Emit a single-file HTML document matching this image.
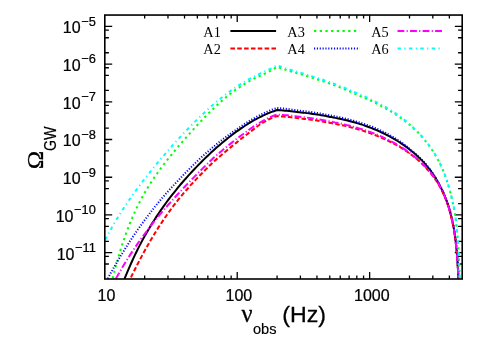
<!DOCTYPE html>
<html><head><meta charset="utf-8"><title>plot</title>
<style>
html,body{margin:0;padding:0;background:#fff;}
body{width:491px;height:343px;overflow:hidden;}
svg{display:block;will-change:transform;}
text{font-family:"Liberation Sans",sans-serif;fill:#000;stroke:#000;stroke-width:0.24px;}
.s{font-family:"Liberation Serif",serif;}
.lg{stroke:none;}
</style></head><body>
<svg width="491" height="343" viewBox="0 0 491 343">
<rect x="0" y="0" width="491" height="343" fill="#ffffff"/>
<defs><clipPath id="c"><rect x="104.80" y="15.05" width="357.40" height="263.95"/></clipPath></defs>
<path d="M144.66,279.00 v-3.40 M144.66,15.05 v3.40 M167.98,279.00 v-3.40 M167.98,15.05 v3.40 M184.53,279.00 v-3.40 M184.53,15.05 v3.40 M197.36,279.00 v-3.40 M197.36,15.05 v3.40 M207.84,279.00 v-3.40 M207.84,15.05 v3.40 M216.71,279.00 v-3.40 M216.71,15.05 v3.40 M224.39,279.00 v-3.40 M224.39,15.05 v3.40 M231.16,279.00 v-3.40 M231.16,15.05 v3.40 M237.22,279.00 v-7.00 M237.22,15.05 v7.00 M277.08,279.00 v-3.40 M277.08,15.05 v3.40 M300.40,279.00 v-3.40 M300.40,15.05 v3.40 M316.95,279.00 v-3.40 M316.95,15.05 v3.40 M329.78,279.00 v-3.40 M329.78,15.05 v3.40 M340.26,279.00 v-3.40 M340.26,15.05 v3.40 M349.13,279.00 v-3.40 M349.13,15.05 v3.40 M356.81,279.00 v-3.40 M356.81,15.05 v3.40 M363.58,279.00 v-3.40 M363.58,15.05 v3.40 M369.64,279.00 v-7.00 M369.64,15.05 v7.00 M409.50,279.00 v-3.40 M409.50,15.05 v3.40 M432.82,279.00 v-3.40 M432.82,15.05 v3.40 M449.37,279.00 v-3.40 M449.37,15.05 v3.40 M104.80,263.99 h4.10 M462.20,263.99 h-4.10 M104.80,256.30 h4.10 M462.20,256.30 h-4.10 M104.80,252.64 h7.40 M462.20,252.64 h-7.40 M104.80,241.29 h4.10 M462.20,241.29 h-4.10 M104.80,226.29 h4.10 M462.20,226.29 h-4.10 M104.80,218.59 h4.10 M462.20,218.59 h-4.10 M104.80,214.94 h7.40 M462.20,214.94 h-7.40 M104.80,203.59 h4.10 M462.20,203.59 h-4.10 M104.80,188.58 h4.10 M462.20,188.58 h-4.10 M104.80,180.88 h4.10 M462.20,180.88 h-4.10 M104.80,177.23 h7.40 M462.20,177.23 h-7.40 M104.80,165.88 h4.10 M462.20,165.88 h-4.10 M104.80,150.87 h4.10 M462.20,150.87 h-4.10 M104.80,143.18 h4.10 M462.20,143.18 h-4.10 M104.80,139.52 h7.40 M462.20,139.52 h-7.40 M104.80,128.17 h4.10 M462.20,128.17 h-4.10 M104.80,113.17 h4.10 M462.20,113.17 h-4.10 M104.80,105.47 h4.10 M462.20,105.47 h-4.10 M104.80,101.82 h7.40 M462.20,101.82 h-7.40 M104.80,90.46 h4.10 M462.20,90.46 h-4.10 M104.80,75.46 h4.10 M462.20,75.46 h-4.10 M104.80,67.76 h4.10 M462.20,67.76 h-4.10 M104.80,64.11 h7.40 M462.20,64.11 h-7.40 M104.80,52.76 h4.10 M462.20,52.76 h-4.10 M104.80,37.75 h4.10 M462.20,37.75 h-4.10 M104.80,30.06 h4.10 M462.20,30.06 h-4.10 M104.80,26.40 h7.40 M462.20,26.40 h-7.40" stroke="#000" stroke-width="1.3" fill="none"/>
<g clip-path="url(#c)" fill="none" stroke-linecap="butt" stroke-linejoin="miter">
<path d="M120.00,290.64 C120.42,289.53 121.67,286.16 122.50,284.00 C123.33,281.84 124.17,279.72 125.00,277.65 C125.83,275.59 126.67,273.57 127.50,271.59 C128.33,269.61 129.17,267.68 130.00,265.78 C130.83,263.89 131.67,262.03 132.50,260.22 C133.33,258.40 134.17,256.63 135.00,254.89 C135.83,253.15 136.67,251.44 137.50,249.77 C138.33,248.10 139.17,246.46 140.00,244.86 C140.83,243.25 141.67,241.68 142.50,240.13 C143.33,238.58 144.17,237.07 145.00,235.58 C145.83,234.09 146.67,232.63 147.50,231.20 C148.33,229.76 149.17,228.36 150.00,226.97 C150.83,225.59 151.67,224.23 152.50,222.89 C153.33,221.55 154.17,220.23 155.00,218.94 C155.83,217.64 156.67,216.37 157.50,215.12 C158.33,213.86 159.17,212.63 160.00,211.41 C160.83,210.20 161.67,209.00 162.50,207.82 C163.33,206.64 164.17,205.47 165.00,204.33 C165.83,203.18 166.67,202.05 167.50,200.93 C168.33,199.81 169.17,198.71 170.00,197.62 C170.83,196.54 171.67,195.46 172.50,194.40 C173.33,193.34 174.17,192.29 175.00,191.26 C175.83,190.22 176.67,189.20 177.50,188.19 C178.33,187.18 179.17,186.18 180.00,185.19 C180.83,184.20 181.67,183.22 182.50,182.26 C183.33,181.29 184.17,180.33 185.00,179.38 C185.83,178.44 186.67,177.50 187.50,176.57 C188.33,175.65 189.17,174.73 190.00,173.82 C190.83,172.91 191.67,172.01 192.50,171.12 C193.33,170.23 194.17,169.34 195.00,168.47 C195.83,167.60 196.67,166.73 197.50,165.87 C198.33,165.02 199.17,164.17 200.00,163.33 C200.83,162.49 201.67,161.65 202.50,160.83 C203.33,160.00 204.17,159.18 205.00,158.38 C205.83,157.57 206.67,156.76 207.50,155.97 C208.33,155.18 209.17,154.39 210.00,153.61 C210.83,152.83 211.67,152.06 212.50,151.30 C213.33,150.54 214.17,149.78 215.00,149.04 C215.83,148.29 216.67,147.55 217.50,146.82 C218.33,146.09 219.17,145.36 220.00,144.65 C220.83,143.93 221.67,143.23 222.50,142.53 C223.33,141.83 224.17,141.14 225.00,140.45 C225.83,139.77 226.67,139.09 227.50,138.43 C228.33,137.76 229.17,137.10 230.00,136.45 C230.83,135.81 231.67,135.16 232.50,134.53 C233.33,133.90 234.17,133.28 235.00,132.66 C235.83,132.05 236.67,131.44 237.50,130.85 C238.33,130.25 239.17,129.66 240.00,129.09 C240.83,128.51 241.67,127.94 242.50,127.38 C243.33,126.82 244.17,126.27 245.00,125.73 C245.83,125.19 246.67,124.66 247.50,124.14 C248.33,123.62 249.17,123.11 250.00,122.61 C250.83,122.11 251.67,121.62 252.50,121.14 C253.33,120.66 254.17,120.19 255.00,119.73 C255.83,119.27 256.67,118.82 257.50,118.38 C258.33,117.94 259.17,117.51 260.00,117.10 C260.83,116.68 261.67,116.27 262.50,115.87 C263.33,115.48 264.17,115.09 265.00,114.71 C265.83,114.34 266.67,113.97 267.50,113.62 C268.33,113.26 269.17,112.92 270.00,112.59 C270.83,112.25 271.67,111.93 272.50,111.62 C273.33,111.31 274.23,110.98 275.00,110.71 C275.77,110.44 276.75,110.12 277.10,110.00 L281.10,110.29 C281.77,110.34 283.77,110.50 285.10,110.63 C286.43,110.75 287.77,110.88 289.10,111.01 C290.43,111.15 291.77,111.30 293.10,111.45 C294.43,111.61 295.77,111.78 297.10,111.95 C298.43,112.11 299.77,112.29 301.10,112.45 C302.43,112.60 303.77,112.72 305.10,112.87 C306.43,113.02 307.77,113.19 309.10,113.36 C310.43,113.53 311.77,113.71 313.10,113.90 C314.43,114.09 315.77,114.29 317.10,114.50 C318.43,114.71 319.77,114.93 321.10,115.16 C322.43,115.39 323.77,115.63 325.10,115.88 C326.43,116.13 327.77,116.41 329.10,116.66 C330.43,116.92 331.77,117.15 333.10,117.40 C334.43,117.65 335.77,117.91 337.10,118.18 C338.43,118.45 339.77,118.73 341.10,119.02 C342.43,119.31 343.77,119.62 345.10,119.94 C346.43,120.26 347.77,120.59 349.10,120.93 C350.43,121.27 351.77,121.63 353.10,122.00 C354.43,122.37 355.77,122.76 357.10,123.16 C358.43,123.56 359.77,123.97 361.10,124.41 C362.43,124.84 363.77,125.30 365.10,125.77 C366.43,126.24 367.77,126.72 369.10,127.22 C370.43,127.73 371.77,128.24 373.10,128.78 C374.43,129.32 375.77,129.88 377.10,130.45 C378.43,131.03 379.77,131.62 381.10,132.24 C382.43,132.86 383.77,133.49 385.10,134.15 C386.43,134.81 387.77,135.50 389.10,136.20 C390.43,136.91 391.77,137.64 393.10,138.41 C394.43,139.17 395.77,139.95 397.10,140.77 C398.43,141.59 399.76,142.44 401.10,143.34 C402.44,144.24 403.78,145.18 405.14,146.16 C406.50,147.14 407.87,148.15 409.24,149.21 C410.61,150.27 411.98,151.37 413.35,152.53 C414.72,153.68 416.10,154.88 417.47,156.15 C418.85,157.42 420.23,158.73 421.60,160.13 C422.97,161.53 424.35,162.98 425.69,164.54 C427.04,166.10 428.86,168.46 429.67,169.48 C430.48,170.51 430.17,170.14 430.57,170.68 C430.96,171.23 431.56,172.05 432.06,172.76 C432.55,173.47 433.05,174.20 433.55,174.95 C434.04,175.70 434.54,176.47 435.04,177.26 C435.53,178.06 436.03,178.87 436.52,179.71 C437.02,180.55 437.52,181.42 438.01,182.31 C438.51,183.21 438.99,184.13 439.50,185.09 C440.01,186.05 440.54,187.04 441.06,188.08 C441.58,189.11 442.10,190.17 442.63,191.29 C443.15,192.41 443.67,193.57 444.20,194.79 C444.72,196.01 445.25,197.27 445.77,198.61 C446.29,199.95 446.81,201.35 447.32,202.84 C447.84,204.33 448.35,205.88 448.86,207.57 C449.37,209.25 449.89,211.01 450.40,212.94 C450.92,214.87 451.52,217.33 451.95,219.16 C452.38,221.00 452.78,222.93 452.99,223.94 C453.21,224.96 453.17,224.80 453.25,225.24 C453.33,225.68 453.41,226.12 453.49,226.57 C453.57,227.03 453.66,227.49 453.74,227.96 C453.82,228.43 453.90,228.91 453.98,229.40 C454.06,229.89 454.14,230.38 454.22,230.89 C454.30,231.40 454.38,231.92 454.47,232.45 C454.55,232.98 454.63,233.51 454.71,234.07 C454.79,234.62 454.87,235.18 454.95,235.76 C455.03,236.34 455.11,236.92 455.19,237.53 C455.27,238.13 455.35,238.75 455.43,239.38 C455.51,240.02 455.59,240.67 455.67,241.34 C455.75,242.00 455.84,242.69 455.92,243.39 C456.00,244.10 456.08,244.82 456.16,245.57 C456.23,246.32 456.31,247.08 456.39,247.88 C456.47,248.67 456.55,249.49 456.63,250.34 C456.71,251.19 456.79,252.06 456.87,252.97 C456.95,253.88 457.03,254.82 457.11,255.80 C457.19,256.78 457.27,257.79 457.34,258.86 C457.42,259.92 457.50,261.02 457.58,262.19 C457.66,263.36 457.73,264.56 457.81,265.85 C457.89,267.14 457.97,268.47 458.04,269.91 C458.12,271.34 458.20,272.84 458.27,274.46 C458.35,276.09 458.42,277.78 458.50,279.65 C458.57,281.53 458.68,284.69 458.72,285.69" stroke="#000000" stroke-width="2.00"/>
<path d="M125.00,289.78 C125.42,288.90 126.67,286.25 127.50,284.50 C128.33,282.76 129.17,281.02 130.00,279.30 C130.83,277.59 131.67,275.88 132.50,274.20 C133.33,272.51 134.17,270.84 135.00,269.19 C135.83,267.54 136.67,265.90 137.50,264.28 C138.33,262.66 139.17,261.06 140.00,259.48 C140.83,257.90 141.67,256.33 142.50,254.79 C143.33,253.24 144.17,251.71 145.00,250.20 C145.83,248.70 146.67,247.21 147.50,245.74 C148.33,244.27 149.17,242.82 150.00,241.38 C150.83,239.95 151.67,238.54 152.50,237.15 C153.33,235.75 154.17,234.38 155.00,233.02 C155.83,231.67 156.67,230.33 157.50,229.01 C158.33,227.69 159.17,226.39 160.00,225.11 C160.83,223.83 161.67,222.57 162.50,221.33 C163.33,220.08 164.17,218.86 165.00,217.65 C165.83,216.44 166.67,215.25 167.50,214.07 C168.33,212.90 169.17,211.74 170.00,210.60 C170.83,209.45 171.67,208.33 172.50,207.22 C173.33,206.11 174.17,205.02 175.00,203.94 C175.83,202.86 176.67,201.79 177.50,200.74 C178.33,199.69 179.17,198.66 180.00,197.64 C180.83,196.61 181.67,195.60 182.50,194.61 C183.33,193.61 184.17,192.63 185.00,191.66 C185.83,190.68 186.67,189.72 187.50,188.78 C188.33,187.83 189.17,186.89 190.00,185.96 C190.83,185.03 191.67,184.12 192.50,183.21 C193.33,182.30 194.17,181.40 195.00,180.51 C195.83,179.62 196.67,178.74 197.50,177.87 C198.33,176.99 199.17,176.13 200.00,175.27 C200.83,174.41 201.67,173.56 202.50,172.72 C203.33,171.87 204.17,171.03 205.00,170.20 C205.83,169.37 206.67,168.54 207.50,167.72 C208.33,166.90 209.17,166.09 210.00,165.28 C210.83,164.47 211.67,163.66 212.50,162.86 C213.33,162.06 214.17,161.23 215.00,160.47 C215.83,159.71 216.67,159.02 217.50,158.31 C218.33,157.59 219.17,156.88 220.00,156.17 C220.83,155.46 221.67,154.75 222.50,154.05 C223.33,153.35 224.17,152.65 225.00,151.96 C225.83,151.26 226.67,150.57 227.50,149.88 C228.33,149.19 229.17,148.51 230.00,147.83 C230.83,147.15 231.67,146.47 232.50,145.80 C233.33,145.13 234.17,144.47 235.00,143.80 C235.83,143.14 236.67,142.48 237.50,141.81 C238.33,141.14 239.17,140.45 240.00,139.78 C240.83,139.11 241.67,138.45 242.50,137.80 C243.33,137.14 244.17,136.49 245.00,135.85 C245.83,135.21 246.67,134.58 247.50,133.96 C248.33,133.34 249.17,132.77 250.00,132.13 C250.83,131.49 251.67,130.76 252.50,130.10 C253.33,129.43 254.17,128.78 255.00,128.15 C255.83,127.51 256.67,126.89 257.50,126.29 C258.33,125.68 259.17,125.09 260.00,124.53 C260.83,123.96 261.67,123.41 262.50,122.89 C263.33,122.36 264.17,121.86 265.00,121.38 C265.83,120.90 266.67,120.46 267.50,120.02 C268.33,119.58 269.17,119.14 270.00,118.74 C270.83,118.33 271.67,117.95 272.50,117.61 C273.33,117.27 274.23,116.94 275.00,116.69 C275.77,116.44 276.75,116.20 277.10,116.10 L281.10,116.38 C281.77,116.44 283.77,116.59 285.10,116.71 C286.43,116.83 287.77,116.95 289.10,117.09 C290.43,117.22 291.77,117.36 293.10,117.51 C294.43,117.66 295.77,117.83 297.10,117.99 C298.43,118.15 299.77,118.32 301.10,118.48 C302.43,118.63 303.77,118.76 305.10,118.92 C306.43,119.08 307.77,119.24 309.10,119.41 C310.43,119.59 311.77,119.77 313.10,119.96 C314.43,120.15 315.77,120.36 317.10,120.57 C318.43,120.78 319.77,121.00 321.10,121.23 C322.43,121.46 323.77,121.70 325.10,121.95 C326.43,122.20 327.77,122.48 329.10,122.73 C330.43,122.98 331.77,123.20 333.10,123.45 C334.43,123.69 335.77,123.94 337.10,124.20 C338.43,124.46 339.77,124.73 341.10,125.01 C342.43,125.29 343.77,125.59 345.10,125.90 C346.43,126.20 347.77,126.52 349.10,126.85 C350.43,127.18 351.77,127.53 353.10,127.88 C354.43,128.24 355.77,128.61 357.10,128.99 C358.43,129.38 359.77,129.78 361.10,130.19 C362.43,130.60 363.77,131.03 365.10,131.48 C366.43,131.92 367.77,132.38 369.10,132.85 C370.43,133.33 371.77,133.82 373.10,134.33 C374.43,134.84 375.77,135.37 377.10,135.91 C378.43,136.45 379.77,137.02 381.10,137.59 C382.43,138.16 383.77,138.74 385.10,139.35 C386.43,139.96 387.77,140.59 389.10,141.25 C390.43,141.90 391.76,142.58 393.10,143.28 C394.44,143.99 395.76,144.71 397.12,145.47 C398.48,146.24 399.88,147.02 401.26,147.86 C402.64,148.70 404.02,149.60 405.41,150.52 C406.79,151.44 408.18,152.39 409.57,153.39 C410.96,154.39 412.35,155.42 413.74,156.51 C415.13,157.61 416.53,158.74 417.93,159.95 C419.33,161.16 420.74,162.41 422.11,163.75 C423.49,165.08 424.83,166.47 426.19,167.96 C427.55,169.45 429.44,171.70 430.28,172.67 C431.11,173.65 430.79,173.29 431.20,173.82 C431.61,174.34 432.22,175.12 432.73,175.80 C433.25,176.48 433.76,177.17 434.27,177.88 C434.78,178.60 435.30,179.33 435.81,180.09 C436.32,180.84 436.84,181.62 437.35,182.42 C437.87,183.23 438.40,184.05 438.90,184.91 C439.40,185.76 439.88,186.64 440.37,187.56 C440.85,188.47 441.34,189.42 441.83,190.40 C442.31,191.39 442.80,192.41 443.29,193.48 C443.77,194.55 444.26,195.65 444.74,196.82 C445.23,197.98 445.71,199.19 446.20,200.48 C446.68,201.76 447.18,203.10 447.66,204.53 C448.15,205.96 448.64,207.45 449.13,209.07 C449.61,210.69 450.10,212.38 450.59,214.25 C451.07,216.11 451.64,218.49 452.04,220.27 C452.44,222.05 452.80,223.93 453.00,224.91 C453.20,225.90 453.16,225.75 453.24,226.17 C453.33,226.60 453.41,227.04 453.49,227.48 C453.57,227.92 453.65,228.38 453.73,228.84 C453.81,229.30 453.89,229.77 453.98,230.24 C454.06,230.72 454.14,231.21 454.22,231.71 C454.30,232.21 454.38,232.72 454.46,233.24 C454.54,233.76 454.62,234.29 454.70,234.83 C454.79,235.38 454.87,235.93 454.95,236.50 C455.03,237.07 455.11,237.66 455.19,238.26 C455.27,238.86 455.35,239.47 455.43,240.10 C455.51,240.73 455.59,241.38 455.67,242.04 C455.75,242.71 455.83,243.39 455.91,244.10 C455.99,244.81 456.07,245.53 456.15,246.28 C456.23,247.04 456.31,247.81 456.39,248.61 C456.47,249.42 456.55,250.24 456.63,251.11 C456.71,251.97 456.79,252.86 456.87,253.79 C456.95,254.72 457.03,255.68 457.10,256.69 C457.18,257.71 457.26,258.75 457.34,259.86 C457.42,260.97 457.50,262.12 457.57,263.35 C457.65,264.57 457.73,265.85 457.81,267.22 C457.88,268.59 457.96,270.02 458.04,271.58 C458.11,273.13 458.19,274.76 458.26,276.56 C458.34,278.37 458.41,280.25 458.49,282.39 C458.56,284.53 458.67,288.24 458.70,289.41" stroke="#ff0000" stroke-width="2.00" stroke-dasharray="4.56,2.28"/>
<path d="M110.00,289.57 C110.42,287.80 111.67,282.37 112.50,278.96 C113.33,275.55 114.17,272.28 115.00,269.12 C115.83,265.96 116.67,262.92 117.50,259.99 C118.33,257.05 119.17,254.24 120.00,251.51 C120.83,248.79 121.67,246.17 122.50,243.63 C123.33,241.10 124.17,238.66 125.00,236.30 C125.83,233.94 126.67,231.68 127.50,229.48 C128.33,227.28 129.17,225.16 130.00,223.10 C130.83,221.05 131.67,219.07 132.50,217.15 C133.33,215.22 134.17,213.37 135.00,211.56 C135.83,209.76 136.67,208.02 137.50,206.32 C138.33,204.62 139.17,202.98 140.00,201.38 C140.83,199.78 141.67,198.23 142.50,196.71 C143.33,195.20 144.17,193.73 145.00,192.29 C145.83,190.85 146.67,189.46 147.50,188.09 C148.33,186.72 149.17,185.38 150.00,184.07 C150.83,182.76 151.67,181.49 152.50,180.23 C153.33,178.97 154.17,177.75 155.00,176.54 C155.83,175.33 156.67,174.14 157.50,172.97 C158.33,171.80 159.17,170.66 160.00,169.52 C160.83,168.39 161.67,167.27 162.50,166.17 C163.33,165.07 164.17,163.98 165.00,162.91 C165.83,161.83 166.67,160.77 167.50,159.72 C168.33,158.66 169.17,157.62 170.00,156.59 C170.83,155.56 171.67,154.53 172.50,153.52 C173.33,152.50 174.17,151.50 175.00,150.50 C175.83,149.50 176.67,148.51 177.50,147.52 C178.33,146.53 179.17,145.55 180.00,144.58 C180.83,143.60 181.67,142.64 182.50,141.67 C183.33,140.71 184.17,139.75 185.00,138.80 C185.83,137.85 186.67,136.90 187.50,135.96 C188.33,135.01 189.17,134.08 190.00,133.15 C190.83,132.21 191.67,131.29 192.50,130.36 C193.33,129.44 194.17,128.53 195.00,127.61 C195.83,126.70 196.67,125.80 197.50,124.90 C198.33,124.00 199.17,123.10 200.00,122.22 C200.83,121.33 201.67,120.45 202.50,119.57 C203.33,118.70 204.17,117.83 205.00,116.97 C205.83,116.11 206.67,115.26 207.50,114.42 C208.33,113.57 209.17,112.73 210.00,111.91 C210.83,111.08 211.67,110.26 212.50,109.45 C213.33,108.64 214.17,107.84 215.00,107.05 C215.83,106.26 216.67,105.47 217.50,104.70 C218.33,103.93 219.17,103.17 220.00,102.42 C220.83,101.68 221.67,100.94 222.50,100.21 C223.33,99.49 224.17,98.77 225.00,98.07 C225.83,97.37 226.67,96.68 227.50,96.00 C228.33,95.32 229.17,94.65 230.00,94.00 C230.83,93.35 231.67,92.71 232.50,92.08 C233.33,91.46 234.17,90.84 235.00,90.24 C235.83,89.64 236.67,89.05 237.50,88.48 C238.33,87.91 239.17,87.34 240.00,86.80 C240.83,86.25 241.67,85.71 242.50,85.19 C243.33,84.67 244.17,84.16 245.00,83.66 C245.83,83.16 246.67,82.68 247.50,82.20 C248.33,81.73 249.17,81.27 250.00,80.81 C250.83,80.36 251.67,79.92 252.50,79.49 C253.33,79.06 254.17,78.64 255.00,78.22 C255.83,77.81 256.67,77.40 257.50,77.00 C258.33,76.60 259.17,76.21 260.00,75.83 C260.83,75.44 261.67,75.06 262.50,74.68 C263.33,74.30 264.17,73.92 265.00,73.54 C265.83,73.17 266.67,72.83 267.50,72.42 C268.33,72.00 269.17,71.54 270.00,71.08 C270.83,70.62 271.67,70.14 272.50,69.66 C273.33,69.18 274.23,68.65 275.00,68.19 C275.77,67.73 276.75,67.11 277.10,66.90 L281.10,68.24 C281.77,68.47 283.77,69.17 285.10,69.61 C286.43,70.05 287.77,70.46 289.10,70.86 C290.43,71.26 291.77,71.62 293.10,72.01 C294.43,72.39 295.77,72.79 297.10,73.18 C298.43,73.58 299.77,73.98 301.10,74.37 C302.43,74.77 303.77,75.15 305.10,75.55 C306.43,75.94 307.77,76.35 309.10,76.76 C310.43,77.16 311.77,77.58 313.10,78.00 C314.43,78.42 315.77,78.85 317.10,79.28 C318.43,79.72 319.77,80.16 321.10,80.60 C322.43,81.05 323.77,81.50 325.10,81.97 C326.43,82.43 327.77,82.90 329.10,83.37 C330.43,83.85 331.77,84.33 333.10,84.82 C334.43,85.31 335.77,85.81 337.10,86.32 C338.43,86.83 339.77,87.34 341.10,87.87 C342.43,88.39 343.77,88.93 345.10,89.47 C346.43,90.01 347.77,90.57 349.10,91.13 C350.43,91.69 351.77,92.26 353.10,92.85 C354.43,93.43 355.77,94.03 357.10,94.63 C358.43,95.22 359.77,95.84 361.10,96.43 C362.43,97.02 363.77,97.57 365.10,98.17 C366.43,98.76 367.77,99.36 369.10,99.98 C370.43,100.60 371.77,101.24 373.10,101.89 C374.43,102.54 375.77,103.20 377.10,103.88 C378.43,104.56 379.77,105.26 381.10,105.96 C382.43,106.66 383.77,107.37 385.10,108.11 C386.43,108.85 387.77,109.60 389.10,110.38 C390.43,111.16 391.77,111.96 393.10,112.78 C394.43,113.61 395.77,114.45 397.10,115.33 C398.43,116.22 399.77,117.12 401.10,118.09 C402.43,119.06 403.77,120.08 405.10,121.13 C406.43,122.18 407.77,123.26 409.10,124.39 C410.43,125.52 411.77,126.67 413.10,127.90 C414.43,129.12 415.77,130.39 417.10,131.73 C418.43,133.07 419.77,134.46 421.10,135.94 C422.43,137.41 423.77,138.94 425.10,140.57 C426.43,142.20 428.28,144.65 429.10,145.72 C429.92,146.79 429.60,146.40 430.00,146.96 C430.40,147.53 431.00,148.38 431.50,149.12 C432.00,149.85 432.50,150.61 433.00,151.38 C433.50,152.15 434.00,152.94 434.50,153.76 C435.00,154.58 435.50,155.41 436.00,156.28 C436.50,157.14 437.00,158.03 437.50,158.95 C438.00,159.86 438.50,160.81 439.00,161.79 C439.50,162.76 440.00,163.77 440.50,164.82 C441.00,165.87 441.50,166.95 442.00,168.08 C442.50,169.22 443.00,170.38 443.50,171.61 C444.00,172.84 444.50,174.11 445.00,175.45 C445.50,176.80 446.00,178.19 446.50,179.67 C447.00,181.15 447.50,182.69 448.00,184.35 C448.50,186.01 448.98,187.74 449.50,189.61 C450.02,191.49 450.66,193.87 451.11,195.63 C451.56,197.39 451.98,199.22 452.20,200.18 C452.43,201.14 452.39,200.99 452.48,201.40 C452.57,201.81 452.66,202.23 452.75,202.65 C452.84,203.08 452.94,203.51 453.03,203.95 C453.12,204.39 453.21,204.83 453.31,205.29 C453.40,205.74 453.49,206.20 453.58,206.67 C453.68,207.14 453.77,207.61 453.86,208.10 C453.95,208.58 454.05,209.07 454.14,209.58 C454.23,210.08 454.33,210.59 454.42,211.11 C454.52,211.63 454.61,212.16 454.70,212.71 C454.80,213.25 454.90,213.80 454.99,214.36 C455.08,214.93 455.16,215.50 455.25,216.09 C455.33,216.68 455.41,217.28 455.49,217.89 C455.57,218.51 455.66,219.14 455.74,219.78 C455.82,220.42 455.90,221.08 455.98,221.76 C456.06,222.43 456.15,223.12 456.23,223.84 C456.31,224.55 456.39,225.27 456.47,226.02 C456.55,226.77 456.63,227.54 456.71,228.33 C456.80,229.13 456.88,229.94 456.96,230.79 C457.04,231.63 457.12,232.49 457.20,233.39 C457.28,234.29 457.36,235.21 457.44,236.18 C457.52,237.14 457.60,238.13 457.69,239.17 C457.77,240.20 457.85,241.27 457.93,242.39 C458.01,243.52 458.09,244.68 458.17,245.90 C458.25,247.12 458.33,248.39 458.41,249.74 C458.49,251.08 458.57,252.48 458.65,253.98 C458.73,255.47 458.80,257.03 458.88,258.71 C458.96,260.40 459.04,262.15 459.12,264.08 C459.20,266.00 459.28,268.02 459.35,270.27 C459.43,272.52 459.51,274.88 459.58,277.59 C459.66,280.30 459.77,285.04 459.81,286.54" stroke="#00ff00" stroke-width="2.00" stroke-dasharray="2.28,3.42"/>
<path d="M102.50,288.73 C102.92,287.92 104.17,285.46 105.00,283.86 C105.83,282.26 106.67,280.67 107.50,279.11 C108.33,277.55 109.17,276.00 110.00,274.48 C110.83,272.95 111.67,271.45 112.50,269.96 C113.33,268.47 114.17,267.00 115.00,265.55 C115.83,264.10 116.67,262.66 117.50,261.25 C118.33,259.83 119.17,258.43 120.00,257.04 C120.83,255.65 121.67,254.28 122.50,252.93 C123.33,251.58 124.17,250.24 125.00,248.91 C125.83,247.59 126.67,246.28 127.50,244.98 C128.33,243.69 129.17,242.41 130.00,241.14 C130.83,239.87 131.67,238.62 132.50,237.38 C133.33,236.14 134.17,234.91 135.00,233.69 C135.83,232.48 136.67,231.28 137.50,230.08 C138.33,228.89 139.17,227.71 140.00,226.55 C140.83,225.38 141.67,224.23 142.50,223.08 C143.33,221.94 144.17,220.80 145.00,219.68 C145.83,218.56 146.67,217.45 147.50,216.34 C148.33,215.24 149.17,214.15 150.00,213.07 C150.83,211.99 151.67,210.92 152.50,209.86 C153.33,208.80 154.17,207.74 155.00,206.70 C155.83,205.66 156.67,204.62 157.50,203.60 C158.33,202.58 159.17,201.55 160.00,200.55 C160.83,199.56 161.67,198.60 162.50,197.64 C163.33,196.68 164.17,195.73 165.00,194.78 C165.83,193.84 166.67,192.90 167.50,191.97 C168.33,191.04 169.17,190.12 170.00,189.21 C170.83,188.29 171.67,187.39 172.50,186.49 C173.33,185.59 174.17,184.70 175.00,183.82 C175.83,182.93 176.67,182.07 177.50,181.19 C178.33,180.31 179.17,179.41 180.00,178.53 C180.83,177.65 181.67,176.76 182.50,175.89 C183.33,175.02 184.17,174.16 185.00,173.30 C185.83,172.44 186.67,171.59 187.50,170.74 C188.33,169.90 189.17,169.06 190.00,168.23 C190.83,167.40 191.67,166.58 192.50,165.76 C193.33,164.94 194.17,164.13 195.00,163.33 C195.83,162.52 196.67,161.73 197.50,160.93 C198.33,160.14 199.17,159.35 200.00,158.58 C200.83,157.81 201.67,157.06 202.50,156.31 C203.33,155.56 204.17,154.81 205.00,154.07 C205.83,153.33 206.67,152.60 207.50,151.88 C208.33,151.15 209.17,150.43 210.00,149.72 C210.83,149.01 211.67,148.31 212.50,147.61 C213.33,146.91 214.17,146.22 215.00,145.53 C215.83,144.85 216.67,144.17 217.50,143.50 C218.33,142.83 219.17,142.16 220.00,141.51 C220.83,140.85 221.67,140.20 222.50,139.56 C223.33,138.91 224.17,138.28 225.00,137.65 C225.83,137.02 226.67,136.40 227.50,135.79 C228.33,135.17 229.17,134.57 230.00,133.97 C230.83,133.37 231.67,132.78 232.50,132.19 C233.33,131.61 234.17,131.03 235.00,130.46 C235.83,129.89 236.67,129.33 237.50,128.76 C238.33,128.19 239.17,127.60 240.00,127.03 C240.83,126.46 241.67,125.90 242.50,125.35 C243.33,124.79 244.17,124.25 245.00,123.71 C245.83,123.18 246.67,122.65 247.50,122.13 C248.33,121.61 249.17,121.10 250.00,120.60 C250.83,120.10 251.67,119.61 252.50,119.12 C253.33,118.64 254.17,118.16 255.00,117.70 C255.83,117.24 256.67,116.80 257.50,116.36 C258.33,115.92 259.17,115.49 260.00,115.07 C260.83,114.65 261.67,114.24 262.50,113.84 C263.33,113.44 264.17,113.05 265.00,112.67 C265.83,112.29 266.67,111.93 267.50,111.57 C268.33,111.21 269.17,110.86 270.00,110.52 C270.83,110.18 271.67,109.85 272.50,109.54 C273.33,109.22 274.23,108.89 275.00,108.62 C275.77,108.35 276.75,108.02 277.10,107.90 L281.10,108.28 C281.77,108.35 283.77,108.55 285.10,108.71 C286.43,108.86 287.77,109.02 289.10,109.18 C290.43,109.35 291.77,109.53 293.10,109.72 C294.43,109.90 295.77,110.11 297.10,110.30 C298.43,110.49 299.77,110.70 301.10,110.87 C302.43,111.03 303.77,111.15 305.10,111.30 C306.43,111.46 307.77,111.62 309.10,111.80 C310.43,111.97 311.77,112.16 313.10,112.35 C314.43,112.54 315.77,112.75 317.10,112.96 C318.43,113.17 319.77,113.40 321.10,113.63 C322.43,113.87 323.77,114.11 325.10,114.37 C326.43,114.62 327.77,114.90 329.10,115.16 C330.43,115.42 331.77,115.66 333.10,115.91 C334.43,116.17 335.77,116.43 337.10,116.70 C338.43,116.97 339.77,117.26 341.10,117.56 C342.43,117.85 343.77,118.16 345.10,118.49 C346.43,118.81 347.77,119.15 349.10,119.49 C350.43,119.84 351.77,120.20 353.10,120.58 C354.43,120.96 355.77,121.35 357.10,121.75 C358.43,122.15 359.77,122.57 361.10,123.00 C362.43,123.42 363.77,123.85 365.10,124.30 C366.43,124.76 367.77,125.22 369.10,125.71 C370.43,126.20 371.77,126.70 373.10,127.22 C374.43,127.74 375.77,128.27 377.10,128.84 C378.43,129.40 379.77,129.98 381.10,130.62 C382.43,131.25 383.77,131.94 385.10,132.63 C386.43,133.33 387.77,134.04 389.10,134.79 C390.43,135.53 391.77,136.29 393.10,137.09 C394.43,137.89 395.77,138.70 397.10,139.56 C398.43,140.42 399.77,141.30 401.10,142.24 C402.43,143.18 403.75,144.19 405.11,145.22 C406.46,146.24 407.84,147.31 409.21,148.42 C410.58,149.53 411.96,150.69 413.33,151.89 C414.70,153.08 416.08,154.30 417.45,155.58 C418.83,156.86 420.21,158.16 421.59,159.56 C422.96,160.96 424.35,162.41 425.70,163.97 C427.04,165.53 428.86,167.89 429.67,168.91 C430.49,169.94 430.17,169.57 430.57,170.11 C430.97,170.66 431.56,171.48 432.06,172.19 C432.55,172.90 433.05,173.63 433.55,174.38 C434.04,175.13 434.54,175.90 435.04,176.69 C435.53,177.49 436.03,178.30 436.53,179.14 C437.02,179.98 437.52,180.85 438.01,181.74 C438.51,182.64 439.00,183.56 439.50,184.52 C440.01,185.48 440.53,186.47 441.05,187.51 C441.57,188.54 442.09,189.60 442.61,190.72 C443.14,191.84 443.66,193.00 444.18,194.22 C444.71,195.44 445.24,196.70 445.76,198.04 C446.28,199.38 446.80,200.78 447.32,202.27 C447.83,203.76 448.34,205.31 448.86,207.00 C449.37,208.68 449.88,210.44 450.40,212.37 C450.91,214.30 451.52,216.76 451.95,218.59 C452.38,220.43 452.77,222.36 452.99,223.37 C453.20,224.39 453.16,224.23 453.25,224.67 C453.33,225.11 453.41,225.55 453.50,226.00 C453.58,226.46 453.66,226.92 453.74,227.39 C453.82,227.86 453.90,228.34 453.98,228.83 C454.06,229.32 454.14,229.81 454.23,230.32 C454.31,230.83 454.39,231.35 454.47,231.88 C454.55,232.41 454.63,232.94 454.71,233.50 C454.79,234.05 454.87,234.61 454.95,235.19 C455.03,235.77 455.11,236.35 455.19,236.96 C455.28,237.56 455.36,238.18 455.44,238.81 C455.52,239.45 455.60,240.10 455.68,240.77 C455.76,241.43 455.84,242.12 455.92,242.82 C456.00,243.53 456.08,244.25 456.16,245.00 C456.24,245.75 456.32,246.51 456.40,247.31 C456.48,248.10 456.56,248.92 456.64,249.77 C456.72,250.62 456.79,251.49 456.87,252.40 C456.95,253.31 457.03,254.25 457.11,255.23 C457.19,256.21 457.27,257.22 457.35,258.29 C457.42,259.35 457.50,260.45 457.58,261.62 C457.66,262.79 457.74,263.99 457.81,265.28 C457.89,266.57 457.97,267.90 458.05,269.34 C458.12,270.77 458.20,272.27 458.27,273.89 C458.35,275.52 458.43,277.21 458.50,279.08 C458.58,280.96 458.69,284.12 458.72,285.12" stroke="#0000ff" stroke-width="2.00" stroke-dasharray="1.14,1.71"/>
<path d="M110.00,289.69 C110.42,288.89 111.67,286.49 112.50,284.93 C113.33,283.36 114.17,281.82 115.00,280.30 C115.83,278.78 116.67,277.28 117.50,275.80 C118.33,274.33 119.17,272.87 120.00,271.43 C120.83,270.00 121.67,268.58 122.50,267.18 C123.33,265.78 124.17,264.41 125.00,263.05 C125.83,261.69 126.67,260.34 127.50,259.02 C128.33,257.69 129.17,256.39 130.00,255.10 C130.83,253.80 131.67,252.53 132.50,251.27 C133.33,250.01 134.17,248.77 135.00,247.54 C135.83,246.31 136.67,245.10 137.50,243.90 C138.33,242.70 139.17,241.52 140.00,240.34 C140.83,239.17 141.67,238.02 142.50,236.87 C143.33,235.72 144.17,234.59 145.00,233.47 C145.83,232.35 146.67,231.24 147.50,230.14 C148.33,229.05 149.17,227.96 150.00,226.89 C150.83,225.81 151.67,224.75 152.50,223.69 C153.33,222.64 154.17,221.59 155.00,220.56 C155.83,219.52 156.67,218.50 157.50,217.48 C158.33,216.46 159.17,215.45 160.00,214.45 C160.83,213.45 161.67,212.46 162.50,211.48 C163.33,210.49 164.17,209.52 165.00,208.55 C165.83,207.58 166.67,206.62 167.50,205.67 C168.33,204.71 169.17,203.76 170.00,202.82 C170.83,201.88 171.67,200.95 172.50,200.02 C173.33,199.09 174.17,198.16 175.00,197.25 C175.83,196.33 176.67,195.42 177.50,194.51 C178.33,193.60 179.17,192.70 180.00,191.81 C180.83,190.91 181.67,190.02 182.50,189.13 C183.33,188.24 184.17,187.36 185.00,186.48 C185.83,185.61 186.67,184.73 187.50,183.86 C188.33,182.99 189.17,182.13 190.00,181.27 C190.83,180.41 191.67,179.55 192.50,178.70 C193.33,177.84 194.17,177.00 195.00,176.15 C195.83,175.30 196.67,174.46 197.50,173.63 C198.33,172.79 199.17,171.95 200.00,171.12 C200.83,170.29 201.67,169.47 202.50,168.64 C203.33,167.82 204.17,167.00 205.00,166.19 C205.83,165.37 206.67,164.56 207.50,163.75 C208.33,162.94 209.17,162.14 210.00,161.34 C210.83,160.54 211.67,159.74 212.50,158.95 C213.33,158.16 214.17,157.34 215.00,156.59 C215.83,155.84 216.67,155.15 217.50,154.43 C218.33,153.72 219.17,153.00 220.00,152.30 C220.83,151.59 221.67,150.89 222.50,150.20 C223.33,149.50 224.17,148.81 225.00,148.13 C225.83,147.44 226.67,146.77 227.50,146.09 C228.33,145.42 229.17,144.76 230.00,144.10 C230.83,143.44 231.67,142.78 232.50,142.13 C233.33,141.47 234.17,140.80 235.00,140.15 C235.83,139.50 236.67,138.86 237.50,138.22 C238.33,137.59 239.17,136.96 240.00,136.35 C240.83,135.73 241.67,135.12 242.50,134.52 C243.33,133.92 244.17,133.37 245.00,132.76 C245.83,132.15 246.67,131.49 247.50,130.87 C248.33,130.25 249.17,129.64 250.00,129.05 C250.83,128.46 251.67,127.87 252.50,127.31 C253.33,126.74 254.17,126.18 255.00,125.64 C255.83,125.10 256.67,124.57 257.50,124.06 C258.33,123.55 259.17,123.06 260.00,122.58 C260.83,122.09 261.67,121.63 262.50,121.16 C263.33,120.69 264.17,120.19 265.00,119.74 C265.83,119.28 266.67,118.84 267.50,118.43 C268.33,118.01 269.17,117.61 270.00,117.24 C270.83,116.87 271.67,116.51 272.50,116.18 C273.33,115.85 274.23,115.52 275.00,115.26 C275.77,115.00 276.75,114.71 277.10,114.60 L281.10,114.86 C281.77,114.92 283.77,115.06 285.10,115.18 C286.43,115.29 287.77,115.41 289.10,115.54 C290.43,115.66 291.77,115.80 293.10,115.94 C294.43,116.09 295.77,116.25 297.10,116.40 C298.43,116.56 299.77,116.73 301.10,116.89 C302.43,117.05 303.77,117.19 305.10,117.35 C306.43,117.52 307.77,117.69 309.10,117.87 C310.43,118.06 311.77,118.25 313.10,118.45 C314.43,118.65 315.77,118.86 317.10,119.08 C318.43,119.30 319.77,119.53 321.10,119.77 C322.43,120.01 323.77,120.26 325.10,120.52 C326.43,120.77 327.77,121.06 329.10,121.32 C330.43,121.58 331.77,121.82 333.10,122.07 C334.43,122.32 335.77,122.57 337.10,122.84 C338.43,123.11 339.77,123.39 341.10,123.69 C342.43,123.98 343.77,124.28 345.10,124.60 C346.43,124.91 347.77,125.24 349.10,125.58 C350.43,125.92 351.77,126.27 353.10,126.64 C354.43,127.00 355.77,127.38 357.10,127.77 C358.43,128.17 359.77,128.57 361.10,128.99 C362.43,129.41 363.77,129.83 365.10,130.28 C366.43,130.72 367.77,131.18 369.10,131.65 C370.43,132.13 371.77,132.62 373.10,133.13 C374.43,133.64 375.77,134.16 377.10,134.71 C378.43,135.26 379.77,135.82 381.10,136.42 C382.43,137.01 383.77,137.63 385.10,138.28 C386.43,138.92 387.77,139.58 389.10,140.27 C390.43,140.95 391.77,141.66 393.10,142.40 C394.43,143.13 395.75,143.89 397.10,144.68 C398.45,145.48 399.84,146.30 401.22,147.17 C402.60,148.04 403.99,148.97 405.37,149.92 C406.76,150.87 408.15,151.86 409.54,152.89 C410.93,153.92 412.32,154.99 413.72,156.11 C415.11,157.23 416.51,158.38 417.91,159.59 C419.31,160.80 420.73,162.05 422.11,163.39 C423.49,164.72 424.82,166.11 426.18,167.60 C427.54,169.09 429.43,171.34 430.27,172.31 C431.10,173.29 430.78,172.93 431.19,173.46 C431.60,173.98 432.21,174.76 432.73,175.44 C433.24,176.12 433.75,176.81 434.26,177.52 C434.78,178.24 435.29,178.97 435.80,179.73 C436.32,180.48 436.83,181.26 437.35,182.06 C437.86,182.87 438.39,183.69 438.89,184.55 C439.40,185.40 439.88,186.28 440.37,187.20 C440.86,188.11 441.35,189.06 441.83,190.04 C442.32,191.03 442.81,192.05 443.29,193.12 C443.78,194.19 444.26,195.29 444.75,196.46 C445.23,197.62 445.71,198.83 446.20,200.12 C446.69,201.40 447.18,202.74 447.67,204.17 C448.16,205.60 448.64,207.09 449.13,208.71 C449.62,210.33 450.10,212.02 450.59,213.89 C451.07,215.75 451.64,218.13 452.04,219.91 C452.44,221.69 452.80,223.57 453.00,224.55 C453.20,225.54 453.17,225.39 453.25,225.81 C453.33,226.24 453.41,226.68 453.49,227.12 C453.57,227.56 453.65,228.02 453.73,228.48 C453.82,228.94 453.90,229.41 453.98,229.88 C454.06,230.36 454.14,230.85 454.22,231.35 C454.30,231.85 454.38,232.36 454.46,232.88 C454.54,233.40 454.63,233.93 454.71,234.47 C454.79,235.02 454.87,235.57 454.95,236.14 C455.03,236.71 455.11,237.30 455.19,237.90 C455.27,238.50 455.35,239.11 455.43,239.74 C455.51,240.37 455.59,241.02 455.67,241.68 C455.75,242.35 455.83,243.03 455.91,243.74 C455.99,244.45 456.07,245.17 456.15,245.92 C456.23,246.68 456.31,247.45 456.39,248.25 C456.47,249.06 456.55,249.88 456.63,250.75 C456.71,251.61 456.79,252.50 456.87,253.43 C456.95,254.36 457.03,255.32 457.11,256.33 C457.18,257.35 457.26,258.39 457.34,259.50 C457.42,260.61 457.50,261.76 457.57,262.99 C457.65,264.21 457.73,265.49 457.81,266.86 C457.88,268.23 457.96,269.66 458.04,271.22 C458.11,272.77 458.19,274.40 458.26,276.20 C458.34,278.01 458.41,279.89 458.49,282.03 C458.56,284.17 458.67,287.88 458.70,289.05" stroke="#ff00ff" stroke-width="2.00" stroke-dasharray="6.84,2.28,1.14,2.28"/>
<path d="M100.00,249.86 C100.42,249.02 101.67,246.46 102.50,244.81 C103.33,243.15 104.17,241.53 105.00,239.94 C105.83,238.34 106.67,236.78 107.50,235.24 C108.33,233.70 109.17,232.18 110.00,230.69 C110.83,229.20 111.67,227.74 112.50,226.30 C113.33,224.85 114.17,223.44 115.00,222.04 C115.83,220.64 116.67,219.26 117.50,217.90 C118.33,216.54 119.17,215.20 120.00,213.88 C120.83,212.56 121.67,211.26 122.50,209.97 C123.33,208.68 124.17,207.41 125.00,206.16 C125.83,204.90 126.67,203.67 127.50,202.44 C128.33,201.21 129.17,200.00 130.00,198.80 C130.83,197.61 131.67,196.42 132.50,195.25 C133.33,194.07 134.17,192.91 135.00,191.76 C135.83,190.61 136.67,189.47 137.50,188.34 C138.33,187.22 139.17,186.10 140.00,184.99 C140.83,183.88 141.67,182.78 142.50,181.69 C143.33,180.60 144.17,179.52 145.00,178.44 C145.83,177.37 146.67,176.30 147.50,175.25 C148.33,174.19 149.17,173.14 150.00,172.10 C150.83,171.05 151.67,170.02 152.50,168.99 C153.33,167.96 154.17,166.94 155.00,165.92 C155.83,164.91 156.67,163.90 157.50,162.89 C158.33,161.89 159.17,160.89 160.00,159.90 C160.83,158.91 161.67,157.93 162.50,156.95 C163.33,155.97 164.17,154.99 165.00,154.03 C165.83,153.06 166.67,152.10 167.50,151.14 C168.33,150.18 169.17,149.23 170.00,148.29 C170.83,147.34 171.67,146.40 172.50,145.46 C173.33,144.53 174.17,143.60 175.00,142.68 C175.83,141.75 176.67,140.83 177.50,139.92 C178.33,139.01 179.17,138.10 180.00,137.20 C180.83,136.30 181.67,135.40 182.50,134.51 C183.33,133.62 184.17,132.73 185.00,131.85 C185.83,130.97 186.67,130.10 187.50,129.23 C188.33,128.37 189.17,127.51 190.00,126.65 C190.83,125.80 191.67,124.95 192.50,124.11 C193.33,123.26 194.17,122.43 195.00,121.60 C195.83,120.77 196.67,119.95 197.50,119.13 C198.33,118.32 199.17,117.51 200.00,116.71 C200.83,115.90 201.67,115.11 202.50,114.32 C203.33,113.54 204.17,112.76 205.00,111.98 C205.83,111.21 206.67,110.45 207.50,109.69 C208.33,108.93 209.17,108.18 210.00,107.44 C210.83,106.70 211.67,105.97 212.50,105.24 C213.33,104.52 214.17,103.80 215.00,103.09 C215.83,102.39 216.67,101.69 217.50,101.00 C218.33,100.30 219.17,99.62 220.00,98.95 C220.83,98.28 221.67,97.61 222.50,96.96 C223.33,96.30 224.17,95.65 225.00,95.02 C225.83,94.38 226.67,93.75 227.50,93.13 C228.33,92.51 229.17,91.90 230.00,91.30 C230.83,90.70 231.67,90.11 232.50,89.53 C233.33,88.94 234.17,88.37 235.00,87.81 C235.83,87.25 236.67,86.69 237.50,86.15 C238.33,85.60 239.17,85.07 240.00,84.54 C240.83,84.02 241.67,83.50 242.50,82.99 C243.33,82.49 244.17,81.99 245.00,81.50 C245.83,81.01 246.67,80.53 247.50,80.06 C248.33,79.59 249.17,79.13 250.00,78.67 C250.83,78.22 251.67,77.78 252.50,77.34 C253.33,76.90 254.17,76.48 255.00,76.06 C255.83,75.64 256.67,75.22 257.50,74.82 C258.33,74.41 259.17,74.02 260.00,73.63 C260.83,73.24 261.67,72.85 262.50,72.48 C263.33,72.10 264.17,71.73 265.00,71.37 C265.83,71.00 266.67,70.68 267.50,70.29 C268.33,69.90 269.17,69.45 270.00,69.02 C270.83,68.60 271.67,68.16 272.50,67.73 C273.33,67.30 274.23,66.85 275.00,66.46 C275.77,66.07 276.75,65.58 277.10,65.40 L281.10,66.78 C281.77,67.02 283.77,67.74 285.10,68.19 C286.43,68.64 287.77,69.06 289.10,69.46 C290.43,69.86 291.77,70.22 293.10,70.61 C294.43,70.99 295.77,71.39 297.10,71.78 C298.43,72.18 299.77,72.58 301.10,72.97 C302.43,73.37 303.77,73.75 305.10,74.15 C306.43,74.54 307.77,74.95 309.10,75.36 C310.43,75.76 311.77,76.18 313.10,76.60 C314.43,77.02 315.77,77.45 317.10,77.88 C318.43,78.32 319.77,78.76 321.10,79.20 C322.43,79.65 323.77,80.10 325.10,80.57 C326.43,81.03 327.77,81.50 329.10,81.97 C330.43,82.45 331.77,82.93 333.10,83.42 C334.43,83.91 335.77,84.41 337.10,84.92 C338.43,85.43 339.77,85.94 341.10,86.47 C342.43,86.99 343.77,87.53 345.10,88.07 C346.43,88.61 347.77,89.17 349.10,89.73 C350.43,90.29 351.77,90.86 353.10,91.45 C354.43,92.03 355.77,92.63 357.10,93.23 C358.43,93.82 359.77,94.44 361.10,95.03 C362.43,95.62 363.77,96.17 365.10,96.77 C366.43,97.36 367.77,97.96 369.10,98.58 C370.43,99.20 371.77,99.84 373.10,100.49 C374.43,101.14 375.77,101.80 377.10,102.48 C378.43,103.16 379.77,103.86 381.10,104.59 C382.43,105.32 383.77,106.08 385.10,106.85 C386.43,107.63 387.77,108.42 389.10,109.23 C390.43,110.05 391.77,110.89 393.10,111.75 C394.43,112.61 395.77,113.49 397.10,114.41 C398.43,115.34 399.77,116.28 401.10,117.28 C402.43,118.28 403.77,119.35 405.10,120.43 C406.43,121.52 407.77,122.64 409.10,123.80 C410.43,124.97 411.77,126.17 413.10,127.42 C414.43,128.67 415.77,129.96 417.10,131.31 C418.43,132.66 419.77,134.04 421.10,135.52 C422.43,136.99 423.77,138.52 425.10,140.15 C426.43,141.78 428.28,144.23 429.10,145.30 C429.92,146.37 429.60,145.98 430.00,146.54 C430.40,147.11 431.00,147.96 431.50,148.70 C432.00,149.43 432.50,150.19 433.00,150.96 C433.50,151.73 434.00,152.52 434.50,153.34 C435.00,154.16 435.50,154.99 436.00,155.86 C436.50,156.72 437.00,157.61 437.50,158.53 C438.00,159.44 438.50,160.39 439.00,161.37 C439.50,162.34 440.00,163.35 440.50,164.40 C441.00,165.45 441.50,166.53 442.00,167.66 C442.50,168.80 443.00,169.96 443.50,171.19 C444.00,172.42 444.50,173.69 445.00,175.03 C445.50,176.38 446.00,177.77 446.50,179.25 C447.00,180.73 447.50,182.27 448.00,183.93 C448.50,185.59 448.98,187.32 449.50,189.19 C450.02,191.07 450.65,193.45 451.10,195.21 C451.55,196.97 451.97,198.80 452.20,199.76 C452.42,200.72 452.38,200.57 452.47,200.98 C452.56,201.39 452.65,201.81 452.74,202.23 C452.84,202.66 452.93,203.09 453.02,203.53 C453.11,203.97 453.20,204.41 453.30,204.87 C453.39,205.32 453.48,205.78 453.57,206.25 C453.67,206.72 453.76,207.19 453.85,207.68 C453.95,208.16 454.04,208.65 454.13,209.16 C454.23,209.66 454.32,210.17 454.41,210.69 C454.51,211.21 454.60,211.74 454.70,212.29 C454.79,212.83 454.89,213.38 454.98,213.94 C455.07,214.51 455.16,215.08 455.25,215.67 C455.33,216.26 455.41,216.86 455.49,217.47 C455.58,218.09 455.66,218.72 455.74,219.36 C455.82,220.00 455.90,220.66 455.98,221.34 C456.06,222.01 456.15,222.70 456.23,223.42 C456.31,224.13 456.39,224.85 456.47,225.60 C456.55,226.35 456.63,227.12 456.72,227.91 C456.80,228.71 456.88,229.52 456.96,230.37 C457.04,231.21 457.12,232.07 457.20,232.97 C457.28,233.87 457.36,234.79 457.44,235.76 C457.53,236.72 457.61,237.71 457.69,238.75 C457.77,239.78 457.85,240.85 457.93,241.97 C458.01,243.10 458.09,244.26 458.17,245.48 C458.25,246.70 458.33,247.97 458.41,249.32 C458.49,250.66 458.57,252.06 458.65,253.56 C458.73,255.05 458.81,256.61 458.88,258.29 C458.96,259.98 459.04,261.73 459.12,263.66 C459.20,265.58 459.28,267.60 459.35,269.85 C459.43,272.10 459.51,274.46 459.58,277.17 C459.66,279.88 459.77,284.62 459.81,286.12" stroke="#00ffff" stroke-width="2.00" stroke-dasharray="3.42,3.42,1.14,3.42"/>
</g>
<rect x="104.80" y="15.05" width="357.40" height="263.95" fill="none" stroke="#000" stroke-width="1.6"/>
<text x="95.8" y="259.54" font-size="16" text-anchor="end">10<tspan font-size="12.8" dy="-7.6" dx="0.6">−11</tspan></text>
<text x="95.8" y="221.84" font-size="16" text-anchor="end">10<tspan font-size="12.8" dy="-7.6" dx="0.6">−10</tspan></text>
<text x="95.8" y="184.13" font-size="16" text-anchor="end">10<tspan font-size="12.8" dy="-7.6" dx="0.6">−9</tspan></text>
<text x="95.8" y="146.42" font-size="16" text-anchor="end">10<tspan font-size="12.8" dy="-7.6" dx="0.6">−8</tspan></text>
<text x="95.8" y="108.72" font-size="16" text-anchor="end">10<tspan font-size="12.8" dy="-7.6" dx="0.6">−7</tspan></text>
<text x="95.8" y="71.01" font-size="16" text-anchor="end">10<tspan font-size="12.8" dy="-7.6" dx="0.6">−6</tspan></text>
<text x="95.8" y="33.30" font-size="16" text-anchor="end">10<tspan font-size="12.8" dy="-7.6" dx="0.6">−5</tspan></text>
<text x="97.60" y="300.7" font-size="16">10</text>
<text x="225.50" y="300.7" font-size="16">100</text>
<text x="354.00" y="300.7" font-size="16">1000</text>
<text transform="translate(241.40,322.05) scale(1.2181,1.2662)" font-size="20" class="s">ν</text>
<text transform="translate(252.96,334.42) scale(0.7315,0.7045)" font-size="20">obs</text>
<text transform="translate(282.25,322.32) scale(1.1574,1.1117)" font-size="20">(Hz)</text>
<text transform="translate(43.30,169.24) rotate(-90) scale(1.2422,1.1849)" font-size="20" class="s">Ω</text>
<text transform="translate(55.90,151.01) rotate(-90) scale(0.7130,0.7932)" font-size="20">GW</text>
<text class="s lg" x="203.32" y="36.50" font-size="14.3">A1</text>
<path d="M230.40,31.00 h45.7" stroke="#000000" stroke-width="2.00" fill="none"/>
<text class="s lg" x="203.32" y="53.70" font-size="14.3">A2</text>
<path d="M230.40,48.60 h45.7" stroke="#ff0000" stroke-width="2.00" fill="none" stroke-dasharray="4.56,2.28"/>
<text class="s lg" x="287.32" y="36.50" font-size="14.3">A3</text>
<path d="M314.00,31.00 h45.7" stroke="#00ff00" stroke-width="2.00" fill="none" stroke-dasharray="2.28,3.42"/>
<text class="s lg" x="287.32" y="53.70" font-size="14.3">A4</text>
<path d="M314.00,48.60 h45.7" stroke="#0000ff" stroke-width="2.00" fill="none" stroke-dasharray="1.14,1.71"/>
<text class="s lg" x="371.22" y="36.50" font-size="14.3">A5</text>
<path d="M397.50,31.00 h45.7" stroke="#ff00ff" stroke-width="2.00" fill="none" stroke-dasharray="6.84,2.28,1.14,2.28"/>
<text class="s lg" x="371.22" y="53.70" font-size="14.3">A6</text>
<path d="M397.50,48.60 h45.7" stroke="#00ffff" stroke-width="2.00" fill="none" stroke-dasharray="3.42,3.42,1.14,3.42"/>
</svg>
</body></html>
